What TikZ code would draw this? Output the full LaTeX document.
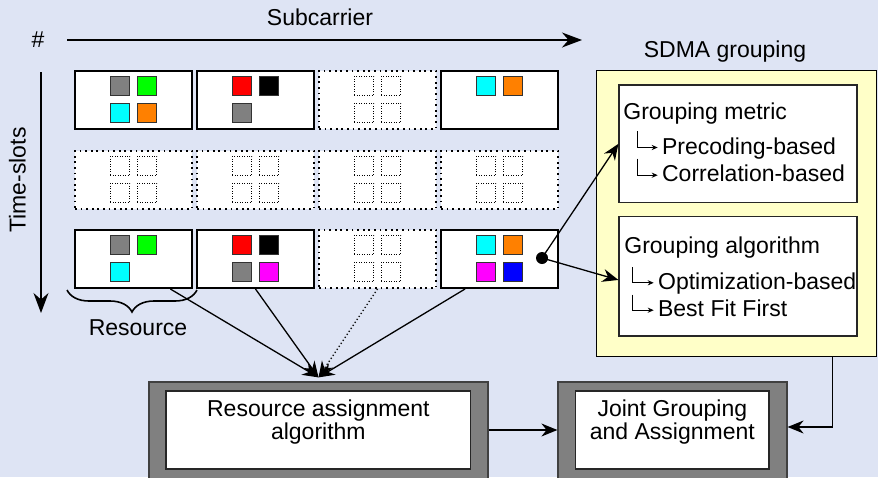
\documentclass[tikz,border=0pt]{standalone}
\usepackage{fontspec}
\setmainfont{Liberation Sans}
\usetikzlibrary{arrows.meta,calc,fit,decorations.pathreplacing}

\definecolor{bgblue}{RGB}{222,228,244}
\definecolor{paleyellow}{RGB}{255,255,200}
\definecolor{cgray}{RGB}{128,128,128}
\definecolor{cgreen}{RGB}{0,255,0}
\definecolor{ccyan}{RGB}{0,255,255}
\definecolor{corange}{RGB}{255,128,0}
\definecolor{cred}{RGB}{255,0,0}
\definecolor{cmagenta}{RGB}{255,0,255}
\definecolor{cblue}{RGB}{0,0,255}

% cell offsets inside a resource block (L/R columns, T/B rows)
\def\offL{-6.75pt}\def\offR{6.75pt}\def\offT{7pt}\def\offB{-6.5pt}

% occupied cells: list of column/row/colour
\newcommand\usercells[2]{%
  \foreach \h/\v/\col [count=\i] in {#2}{%
    \node[cell, fill=\col] (#1-u\i) at ([xshift=\csname off\h\endcsname, yshift=\csname off\v\endcsname]#1.center) {};
  }}
% four free (dotted) cells
\newcommand\freecells[1]{%
  \foreach \h/\v [count=\i] in {L/T,R/T,L/B,R/B}{%
    \node[freecell] (#1-f\i) at ([xshift=\csname off\h\endcsname, yshift=\csname off\v\endcsname]#1.center) {};
  }}

\begin{document}
\begin{tikzpicture}[x=0.5pt,y=-0.5pt,
  font=\fontsize{11.5}{11.6}\selectfont,
  block/.style={draw=black, line width=1pt, fill=white,
    minimum width=58.5pt, minimum height=29pt, inner sep=0pt},
  freeblock/.style={block, line width=0.9pt, dash pattern=on 0.9pt off 1.9pt},
  cell/.style={draw=black!80, line width=0.5pt, minimum size=9.6pt, inner sep=0pt},
  freecell/.style={cell, fill=white, draw=black, dash pattern=on 0.5pt off 0.75pt},
  arr/.style={-{Stealth[length=8pt,width=6.5pt]}, line width=0.65pt},
  bigarr/.style={-{Stealth[length=10pt,width=7.5pt]}, line width=0.75pt},
  elbow/.style={-{Stealth[length=3pt,width=2.6pt]}, line width=0.5pt},
  frame/.style={draw=black!75, fill=cgray, line width=0.6pt, inner sep=0pt},
  whitebox/.style={draw=black!85, fill=white, line width=0.6pt, inner sep=0pt, align=center},
  txt/.style={inner sep=0pt, anchor=base west},
]
\clip (0,0) rectangle (878,477);
\fill[bgblue] (0,0) rectangle (878,477);

% axes
\node (hash) at (38,40) {\#};
\node (subc) at (320,17) {Subcarrier};
\coordinate (sc0) at (67,40);
\coordinate (sc1) at (582,40);
\draw[bigarr] (sc0) -- (sc1);
\node[rotate=90] (ts) at (17.5,180) {Time-slots};
\coordinate (ts0) at (41,72);
\coordinate (ts1) at (41,313);
\draw[bigarr] (ts0) -- (ts1);

% resource grid
\node[block]     (b11) at (133.5,100) {};
\node[block]     (b12) at (255.5,100) {};
\node[freeblock] (b13) at (377.5,100) {};
\node[block]     (b14) at (499.5,100) {};
\node[freeblock] (b21) at (133.5,180) {};
\node[freeblock] (b22) at (255.5,180) {};
\node[freeblock] (b23) at (377.5,180) {};
\node[freeblock] (b24) at (499.5,180) {};
\node[block]     (b31) at (133.5,259) {};
\node[block]     (b32) at (255.5,259) {};
\node[freeblock] (b33) at (377.5,259) {};
\node[block]     (b34) at (499.5,259) {};

\usercells{b11}{L/T/cgray, R/T/cgreen, L/B/ccyan, R/B/corange}
\usercells{b12}{L/T/cred, R/T/black, L/B/cgray}
\freecells{b13}
\usercells{b14}{L/T/ccyan, R/T/corange}
\freecells{b21}
\freecells{b22}
\freecells{b23}
\freecells{b24}
\usercells{b31}{L/T/cgray, R/T/cgreen, L/B/ccyan}
\usercells{b32}{L/T/cred, R/T/black, L/B/cgray, R/B/cmagenta}
\freecells{b33}
\usercells{b34}{L/T/ccyan, R/T/corange, L/B/cmagenta, R/B/cblue}

% brace under one resource
\coordinate (br0) at (67,290);
\coordinate (br1) at (197,290);
\draw[decorate, decoration={brace, mirror, amplitude=11pt}, line width=0.8pt] (br0) -- (br1);
\node (reslbl) at (138,328) {Resource};

% SDMA grouping panel
\node (sdmalbl) at (725,52) {SDMA grouping};
\node[draw=black, fill=paleyellow, line width=0.7pt, inner sep=0pt,
      fit={(596.7,70.7) (876.7,356.7)}] (sdma) {};
\node[whitebox, fit={(619,85) (857,202.7)}] (metric) {};
\node[whitebox, fit={(619,216.7) (857,336)}] (algo) {};

\node[txt] (m0) at (623,119) {Grouping metric};
\node[txt] (m1) at (661.7,154) {Precoding-based};
\node[txt] (m2) at (661.7,181.7) {Correlation-based};
\node[txt] (a0) at (624,253.3) {Grouping algorithm};
\node[txt] (a1) at (657.7,289.3) {Optimization-based};
\node[txt] (a2) at (657.7,316.7) {Best Fit First};
\foreach \t in {m1,m2}{
  \draw[elbow] ($(\t.base west)+(-24.4,-23)$) |- ($(\t.base west)+(-4,-6.5)$);
}
\foreach \t in {a1,a2}{
  \draw[elbow] ($(\t.base west)+(-25,-22)$) |- ($(\t.base west)+(-4,-6.5)$);
}

% selected resource feeds the grouping stages
\node[circle, fill=black, inner sep=0pt, minimum size=6pt] (dot) at (542,258) {};
\draw[arr] (dot.center) -- (metric.west);
\draw[arr] (dot.center) -- ([yshift=-1.8pt]algo.west);

% assignment stages
\node[frame, fit={(149,382) (488,492)}] (resframe) {};
\node[whitebox, fit={(166,391) (470.7,469)}] (resbox) {Resource assignment\\algorithm};
\node[frame, fit={(558,382) (787,492)}] (jointframe) {};
\node[whitebox, fit={(575.7,391) (769,469)}] (jointbox) {Joint Grouping\\and Assignment};

\coordinate (resin) at ([yshift=2pt]resframe.north);
\draw[arr] ($(b31.south east)!0.19!(b31.south west)$) -- (resin);
\draw[arr] (b32.south) -- (resin);
\draw[arr, dash pattern=on 0.6pt off 1.2pt] (b33.south) -- (resin);
\draw[arr] ($(b34.south west)!0.21!(b34.south east)$) -- (resin);

\draw[arr] (resframe.east |- resbox.east) -- (jointframe.west |- resbox.east);
\coordinate (sdmaout) at ($(sdma.south west)!0.84!(sdma.south east)$);
\draw[arr] (sdmaout) |- ([yshift=1.5pt]jointbox.east -| jointframe.east);
\end{tikzpicture}
\end{document}
